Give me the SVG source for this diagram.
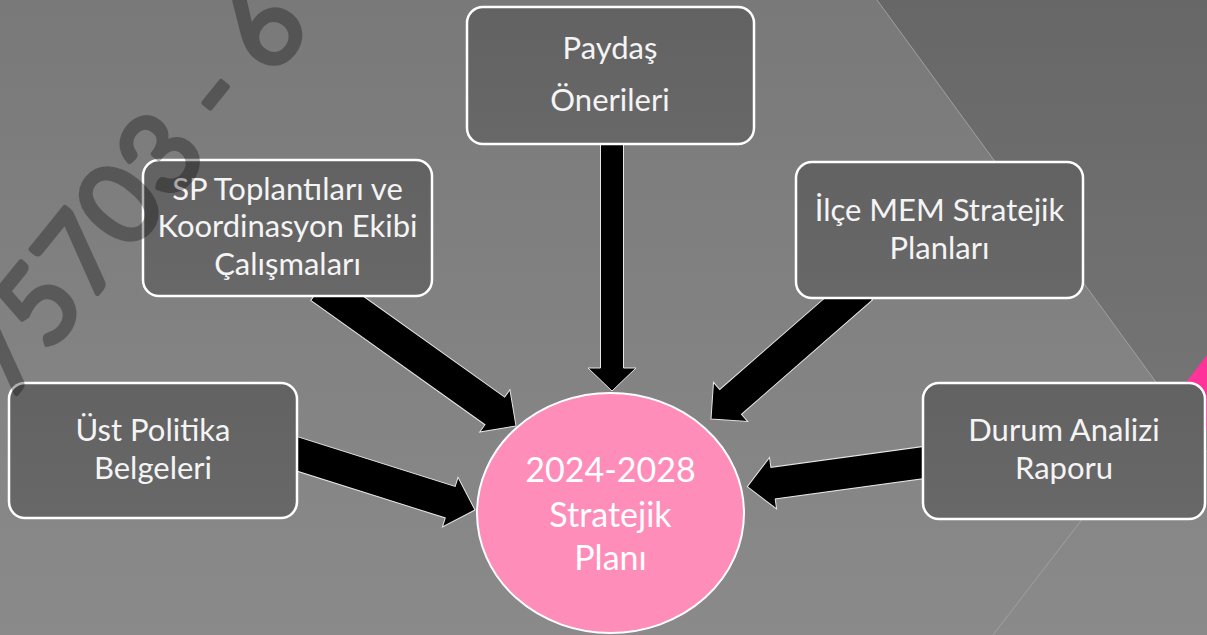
<svg xmlns="http://www.w3.org/2000/svg" width="1207" height="635" viewBox="0 0 1207 635">
  <defs>
    <linearGradient id="bgMain" x1="0" y1="0" x2="0" y2="1">
      <stop offset="0" stop-color="#797979"/>
      <stop offset="1" stop-color="#8a8a8a"/>
    </linearGradient>
    <linearGradient id="bgFacet" x1="0" y1="0" x2="0" y2="1">
      <stop offset="0" stop-color="#676767"/>
      <stop offset="1" stop-color="#767676"/>
    </linearGradient>
    <linearGradient id="boxFill" x1="0" y1="0" x2="0" y2="1">
      <stop offset="0" stop-color="#626262"/>
      <stop offset="1" stop-color="#686868"/>
    </linearGradient>
    <style>
      .box { fill: url(#boxFill); stroke: #ffffff; stroke-width: 2.5; }
      .lbl { font-family: Lato, "Open Sans", "Liberation Sans", sans-serif; font-size: 31px; fill: #f4f4f4; text-anchor: middle; }
      .big { font-family: Lato, "Open Sans", "Liberation Sans", sans-serif; font-size: 34px; fill: #ffffff; text-anchor: middle; }
      .arrow { fill: #000000; stroke: #e6e6e6; stroke-width: 1; stroke-linejoin: miter; }
      .facet { stroke: #a0a0a0; stroke-width: 1; fill: none; }
      .mark { font-family: Lato, "Liberation Sans", sans-serif; font-size: 111px; fill: #000000; stroke: #000000; stroke-width: 5; stroke-linejoin: round; }
    </style>
  </defs>

  <!-- background -->
  <rect x="0" y="0" width="1207" height="635" fill="url(#bgMain)"/>
  <polygon points="877,0 1207,0 1207,452" fill="url(#bgFacet)"/>
  <line class="facet" x1="877" y1="0" x2="1207" y2="452"/>
  <line class="facet" x1="993" y1="635" x2="1207" y2="357"/>
  <polygon points="1207,355 1165,410 1207,430" fill="#ff3399"/>

  <!-- connectors: block arrows, tip at local origin -->
  <g id="connectors">
    <polygon class="arrow" transform="translate(612,391) rotate(90)" points="0,0 -23,-24 -23,-11.5 -261,-11.5 -261,11.5 -23,11.5 -23,24"/>
    <polygon class="arrow" transform="translate(516,426) rotate(35.5)" points="0,0 -26,-26 -26,-17 -240,-17 -240,17 -26,17 -26,26"/>
    <polygon class="arrow" transform="translate(711,419) rotate(138.9)" points="0,0 -26,-26 -26,-16.5 -200,-16.5 -200,16.5 -26,16.5 -26,26"/>
    <polygon class="arrow" transform="translate(475,510) rotate(17.5)" points="0,0 -26,-26 -26,-16.5 -200,-16.5 -200,16.5 -26,16.5 -26,26"/>
    <polygon class="arrow" transform="translate(747.3,486.7) rotate(172.2)" points="0,0 -26,-26 -26,-16 -195,-16 -195,16 -26,16 -26,26"/>
  </g>

  <g id="paydas">
    <rect class="box" x="467" y="7" width="287" height="137" rx="16"/>
    <text class="lbl" x="610" y="59">Paydaş</text>
    <text class="lbl" x="610" y="111">Önerileri</text>
  </g>

  <g id="sp-toplantilari">
    <rect class="box" x="143" y="160" width="289" height="136" rx="16"/>
    <text class="lbl" x="287.5" y="200">SP Toplantıları ve</text>
    <text class="lbl" x="287.5" y="237">Koordinasyon Ekibi</text>
    <text class="lbl" x="287.5" y="275">Çalışmaları</text>
  </g>

  <g id="ilce-mem">
    <rect class="box" x="796" y="162" width="287" height="136" rx="16"/>
    <text class="lbl" x="939.5" y="221">İlçe MEM Stratejik</text>
    <text class="lbl" x="939.5" y="259">Planları</text>
  </g>

  <g id="ust-politika">
    <rect class="box" x="9" y="383" width="288" height="135" rx="16"/>
    <text class="lbl" x="153" y="441">Üst Politika</text>
    <text class="lbl" x="153" y="479">Belgeleri</text>
  </g>

  <g id="durum-analizi">
    <rect class="box" x="923" y="383" width="282" height="136" rx="16"/>
    <text class="lbl" x="1064" y="441">Durum Analizi</text>
    <text class="lbl" x="1064" y="479">Raporu</text>
  </g>

  <g id="stratejik-plan">
    <ellipse cx="610.5" cy="513" rx="133.5" ry="120" fill="#ff8dba" stroke="#ffffff" stroke-width="2"/>
    <text class="big" x="610.5" y="482">2024-2028</text>
    <text class="big" x="610.5" y="527">Stratejik</text>
    <text class="big" x="610.5" y="570">Planı</text>
  </g>

  <!-- watermark overlay -->
  <g opacity="0.3">
    <text class="mark" transform="translate(8,404) rotate(-51)">75703 - 6</text>
  </g>
</svg>
